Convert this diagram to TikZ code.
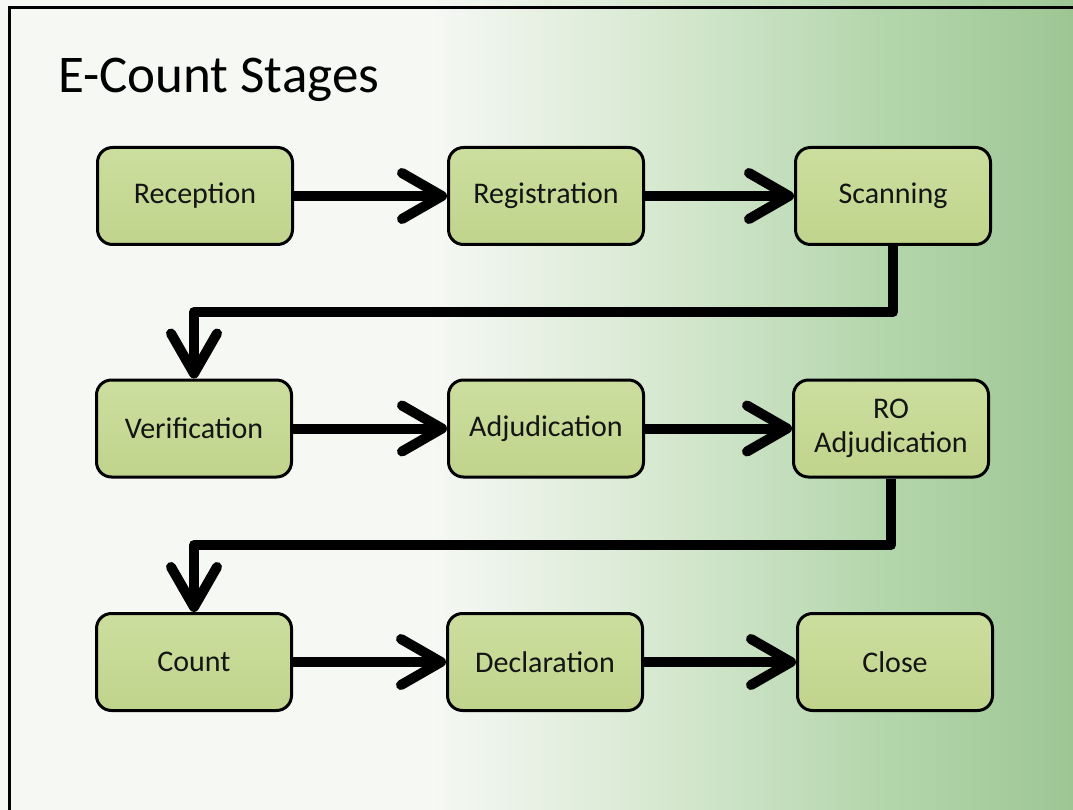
\documentclass[tikz,border=0pt]{standalone}
\usepackage{fontspec}
\setmainfont{Carlito}
\usetikzlibrary{arrows.meta}

\definecolor{boxtop}{RGB}{204,222,158}
\definecolor{boxbot}{RGB}{192,212,140}
\definecolor{ink}{RGB}{20,20,20}
\definecolor{bgA}{RGB}{246,248,244}
\definecolor{bgB}{RGB}{214,232,208}
\definecolor{bgC}{RGB}{180,214,172}
\definecolor{bgD}{RGB}{158,198,148}

\pgfdeclarehorizontalshading{slidebg}{100bp}{%
  color(0bp)=(bgA); color(25bp)=(bgA); color(45bp)=(bgA);
  color(56bp)=(bgB); color(66bp)=(bgC); color(75bp)=(bgD); color(100bp)=(bgD)}

\tikzset{
  stage/.style={draw=black, line width=3pt, rounded corners=15pt,
    top color=boxtop, bottom color=boxbot,
    minimum width=195pt, minimum height=97pt, align=center,
    text=ink, font=\fontsize{30}{34}\selectfont, inner sep=0pt},
  flow/.style={line width=10pt, draw=black, line join=round,
    -{Straight Barb[length=40pt, width=46pt, line cap=round, line join=round]}},
  title/.style={anchor=base west, text=black, font=\fontsize{53}{60}\selectfont, inner sep=0pt}
}

\begin{document}
\begin{tikzpicture}[x=1pt, y=-1pt]
  \useasboundingbox (0,0) rectangle (1073,810);

  % slide background: white on the left, fading into green on the right
  \fill[white] (0,0) rectangle (1073,810);
  \shade[shading=slidebg] (0,0) rectangle (1073,810);

  % slide frame
  \draw[line width=3pt, line cap=rect] (9.5,810) -- (9.5,8) -- (1073,8);

  % title
  \node[title] (title) at (58,93) {E-Count Stages};

  % stages
  \node[stage] (rec)  at (195,196)   {Reception};
  \node[stage] (reg)  at (546,196)   {Registration};
  \node[stage] (scan) at (893,196)   {Scanning};
  \node[stage] (ver)  at (194,428.5) {Verification};
  \node[stage] (adj)  at (546,428.5) {Adjudication};
  \node[stage] (ro)   at (891,428.5) {RO\\Adjudication};
  \node[stage] (cnt)  at (194,662)   {Count};
  \node[stage] (dec)  at (545,662)   {Declaration};
  \node[stage] (cls)  at (895,662)   {Close};

  % row levels of the return connectors
  \coordinate (back1) at (0,312);
  \coordinate (back2) at (0,545);

  % connectors
  \draw[flow] (rec) -- (reg);
  \draw[flow] (reg) -- (scan);
  \draw[flow] (scan.south) -- (scan.south |- back1) -| (ver.north);
  \draw[flow] (ver) -- (adj);
  \draw[flow] (adj) -- (ro);
  \draw[flow] (ro.south) -- (ro.south |- back2) -| (cnt.north);
  \draw[flow] (cnt) -- (dec);
  \draw[flow] (dec) -- (cls);
\end{tikzpicture}
\end{document}
